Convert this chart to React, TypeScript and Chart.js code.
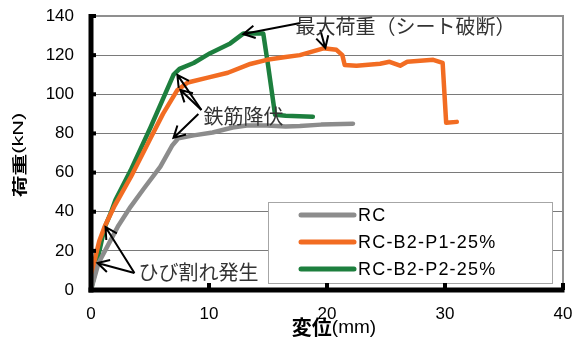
import { useEffect, useRef } from "react";
import { Chart, registerables } from "chart.js";

Chart.register(...registerables);

// Load–displacement curves (displacement in mm, load in kN)
const rcDisp = [0, 0.64, 1.23, 2.33, 3.35, 4.5, 5.88, 6.9, 7.4, 8.7, 10.3, 12.0, 13.2, 14.9, 16.5, 17.7, 19.5, 22.2];
const rcLoad = [0, 13.8, 20.5, 33, 42.5, 52, 63, 74, 77.5, 79, 80.5, 83, 84, 84, 83.5, 83.8, 84.5, 85];

const p1Disp = [0, 0.3, 0.7, 1.2, 2.0, 3.4, 5.0, 6.1, 7.3, 8.2, 9.9, 11.6, 13.5, 14.9, 16.5, 17.7, 19.7, 20.8, 21.3, 21.5, 22.5, 24.5, 25.3, 26.2, 26.8, 29.0, 29.8, 30.1, 31.0];
const p1Load = [0, 15, 25, 33, 43, 58, 77, 90, 102, 106, 108.5, 111, 115.5, 117.6, 119, 120, 123.5, 122.7, 120, 115, 114.6, 115.6, 116.6, 114.6, 116.6, 117.6, 116.1, 85.4, 85.9];

const p2Disp = [0, 0.38, 0.64, 0.97, 1.23, 1.65, 2.07, 3.35, 5.04, 7.0, 7.5, 8.7, 10.1, 11.8, 12.9, 14.6, 15.0, 15.6, 16.5, 18.8];
const p2Load = [0, 10, 18, 27, 33, 39, 46, 61, 83, 110, 113, 116, 121, 126, 131, 131, 115, 89.5, 89, 88.5];

const seriesNames = ["RC", "RC-B2-P1-25%", "RC-B2-P2-25%"];
const seriesColors = ["#8c8c8c", "#f26c22", "#1d7f3e"];

const xTicks = [0, 10, 20, 30, 40];
const yTicks = [0, 20, 40, 60, 80, 100, 120, 140];

// Callouts: label anchor and arrows [tailX, tailY, tipX, tipY] in data units
const maxLoadLabel = "最大荷重（シート破断）";
const maxLoadAt = [17.32, 134.9];
const maxLoadArrows = [
  [17.74, 136.4, 12.91, 130.8],
  [19.43, 132.9, 19.86, 123.7],
];
const yieldLabel = "鉄筋降伏";
const yieldAt = [9.53, 88.9];
const yieldArrows = [
  [9.36, 92.0, 7.32, 109.9],
  [9.36, 92.0, 7.58, 102.2],
  [9.1, 89.9, 6.99, 77.7],
];
const crackLabel = "ひび割れ発生";
const crackAt = [4.02, 9.2];
const crackArrows = [
  [3.68, 8.7, 1.23, 32.2],
  [3.68, 8.7, 0.55, 13.8],
];

const JP = "'Noto Sans CJK JP', sans-serif";
const LAT = "'Liberation Sans', Arial, sans-serif";

function toPoints(xs: number[], ys: number[]) {
  return xs.map((x, i) => ({ x, y: ys[i] }));
}

const overlay = {
  id: "overlay",
  afterDatasetsDraw(chart: any) {
    const { ctx, chartArea: a } = chart;
    const xs = chart.scales.x;
    const ys = chart.scales.y;
    const px = (v: number) => xs.getPixelForValue(v);
    const py = (v: number) => ys.getPixelForValue(v);
    ctx.save();

    // plot frame (top / right)
    ctx.strokeStyle = "#8f8f8f";
    ctx.lineWidth = 2;
    ctx.beginPath();
    ctx.moveTo(a.left, a.top);
    ctx.lineTo(a.right, a.top);
    ctx.lineTo(a.right, a.bottom);
    ctx.stroke();

    // legend box
    const bw = 284;
    const bh = 81;
    const bl = a.right - 11 - bw;
    const bt = a.bottom - 7 - bh;
    ctx.fillStyle = "#ffffff";
    ctx.fillRect(bl, bt, bw, bh);
    ctx.strokeStyle = "#a6a6a6";
    ctx.lineWidth = 1;
    ctx.strokeRect(bl + 0.5, bt + 0.5, bw, bh);
    seriesNames.forEach((name, i) => {
      const ry = bt + 13 + i * 27;
      ctx.strokeStyle = seriesColors[i];
      ctx.lineWidth = 5;
      ctx.lineCap = "round";
      ctx.beginPath();
      ctx.moveTo(bl + 33, ry);
      ctx.lineTo(bl + 86, ry);
      ctx.stroke();
      ctx.fillStyle = "#000";
      ctx.font = `18px ${LAT}`;
      ctx.textAlign = "left";
      ctx.textBaseline = "middle";
      (ctx as any).letterSpacing = "1.2px";
      ctx.fillText(name, bl + 90, ry + 1);
      (ctx as any).letterSpacing = "0px";
    });

    // axis lines and tick marks
    ctx.fillStyle = "#000";
    ctx.fillRect(a.left - 2.5, a.top - 2, 5, a.bottom - a.top + 4.5);
    ctx.fillRect(a.left - 2.5, a.bottom - 2.5, a.right - a.left + 4, 5);
    yTicks.forEach((v) => ctx.fillRect(a.left, py(v) - 2, 5, 4));
    xTicks.forEach((v) => ctx.fillRect(px(v) - 2, a.bottom - 7, 4, 7));

    // callouts
    const arrow = (t: number[]) => {
      const x0 = px(t[0]), y0 = py(t[1]), x1 = px(t[2]), y1 = py(t[3]);
      const ang = Math.atan2(y1 - y0, x1 - x0);
      const hl = 13;
      const sp = 0.5;
      ctx.strokeStyle = "#000";
      ctx.lineWidth = 2;
      ctx.lineCap = "butt";
      ctx.beginPath();
      ctx.moveTo(x0, y0);
      ctx.lineTo(x1, y1);
      ctx.moveTo(x1 - hl * Math.cos(ang - sp), y1 - hl * Math.sin(ang - sp));
      ctx.lineTo(x1, y1);
      ctx.lineTo(x1 - hl * Math.cos(ang + sp), y1 - hl * Math.sin(ang + sp));
      ctx.stroke();
    };
    maxLoadArrows.forEach(arrow);
    yieldArrows.forEach(arrow);
    crackArrows.forEach(arrow);

    ctx.font = `20px ${JP}`;
    ctx.fillStyle = "#333333";
    ctx.textAlign = "left";
    ctx.textBaseline = "middle";
    ctx.fillText(maxLoadLabel, px(maxLoadAt[0]), py(maxLoadAt[1]));
    ctx.fillText(yieldLabel, px(yieldAt[0]), py(yieldAt[1]));
    ctx.fillText(crackLabel, px(crackAt[0]), py(crackAt[1]));

    // x axis title
    ctx.fillStyle = "#000";
    ctx.font = `bold 20px ${JP}`;
    const xa = "変位";
    const xb = "(mm)";
    const wa = ctx.measureText(xa).width;
    ctx.font = `19px ${LAT}`;
    const wb = ctx.measureText(xb).width;
    const xc = (a.left + a.right) / 2 + 7;
    const xt = chart.height - 11;
    const sx = xc - (wa + wb) / 2;
    ctx.font = `bold 20px ${JP}`;
    ctx.fillText(xa, sx, xt);
    ctx.font = `19px ${LAT}`;
    ctx.fillText(xb, sx + wa, xt + 1);

    // y axis title (rotated, horizontally stretched)
    ctx.save();
    ctx.translate(19, (a.top + a.bottom) / 2 + 2);
    ctx.rotate(-Math.PI / 2);
    ctx.scale(1.45, 1);
    ctx.font = `bold 15px ${JP}`;
    const ya = "荷重";
    const yb = "(kN)";
    const wya = ctx.measureText(ya).width;
    ctx.font = `15px ${LAT}`;
    const wyb = ctx.measureText(yb).width;
    const s0 = -(wya + wyb) / 2;
    ctx.font = `bold 15px ${JP}`;
    ctx.fillText(ya, s0, 0);
    ctx.font = `15px ${LAT}`;
    ctx.fillText(yb, s0 + wya, 0);
    ctx.restore();

    ctx.restore();
  },
};

export default function App() {
  const ref = useRef<HTMLCanvasElement | null>(null);

  useEffect(() => {
    if (!ref.current) return;
    const series = [
      toPoints(rcDisp, rcLoad),
      toPoints(p1Disp, p1Load),
      toPoints(p2Disp, p2Load),
    ];
    const chart = new Chart(ref.current, {
      type: "scatter",
      data: {
        datasets: series.map((d, i) => ({
          label: seriesNames[i],
          data: d,
          showLine: true,
          borderColor: seriesColors[i],
          backgroundColor: seriesColors[i],
          borderWidth: 4.5,
          borderCapStyle: "round",
          borderJoinStyle: "round",
          pointRadius: 0,
          tension: 0,
        })),
      },
      options: {
        animation: false,
        responsive: false,
        devicePixelRatio: 1,
        layout: { padding: { left: 0, top: 16, right: 20, bottom: 0 } },
        plugins: { legend: { display: false }, tooltip: { enabled: false } },
        scales: {
          x: {
            type: "linear",
            min: 0,
            max: 40,
            afterFit: (s: any) => {
              s.height = 48;
              s.paddingLeft = 0;
              s.paddingRight = 0;
            },
            afterBuildTicks: (s: any) => {
              s.ticks = xTicks.map((v) => ({ value: v }));
            },
            grid: { display: false, drawTicks: false },
            border: { display: false },
            ticks: { color: "#000", padding: 14, font: { family: LAT, size: 17 } },
          },
          y: {
            type: "linear",
            min: 0,
            max: 140,
            afterFit: (s: any) => {
              s.width = 91;
              s.paddingTop = 0;
              s.paddingBottom = 0;
            },
            afterBuildTicks: (s: any) => {
              s.ticks = yTicks.map((v) => ({ value: v }));
            },
            grid: { color: "#7a7a7a", lineWidth: 1, drawTicks: false },
            border: { display: false },
            ticks: { color: "#000", padding: 17, font: { family: LAT, size: 17 } },
          },
        },
      },
      plugins: [overlay],
    } as any);
    return () => chart.destroy();
  }, []);

  return (
    <div style={{ position: "absolute", left: 0, top: 0, width: 583, height: 338, background: "#fff" }}>
      <canvas ref={ref} width={583} height={338} />
    </div>
  );
}
